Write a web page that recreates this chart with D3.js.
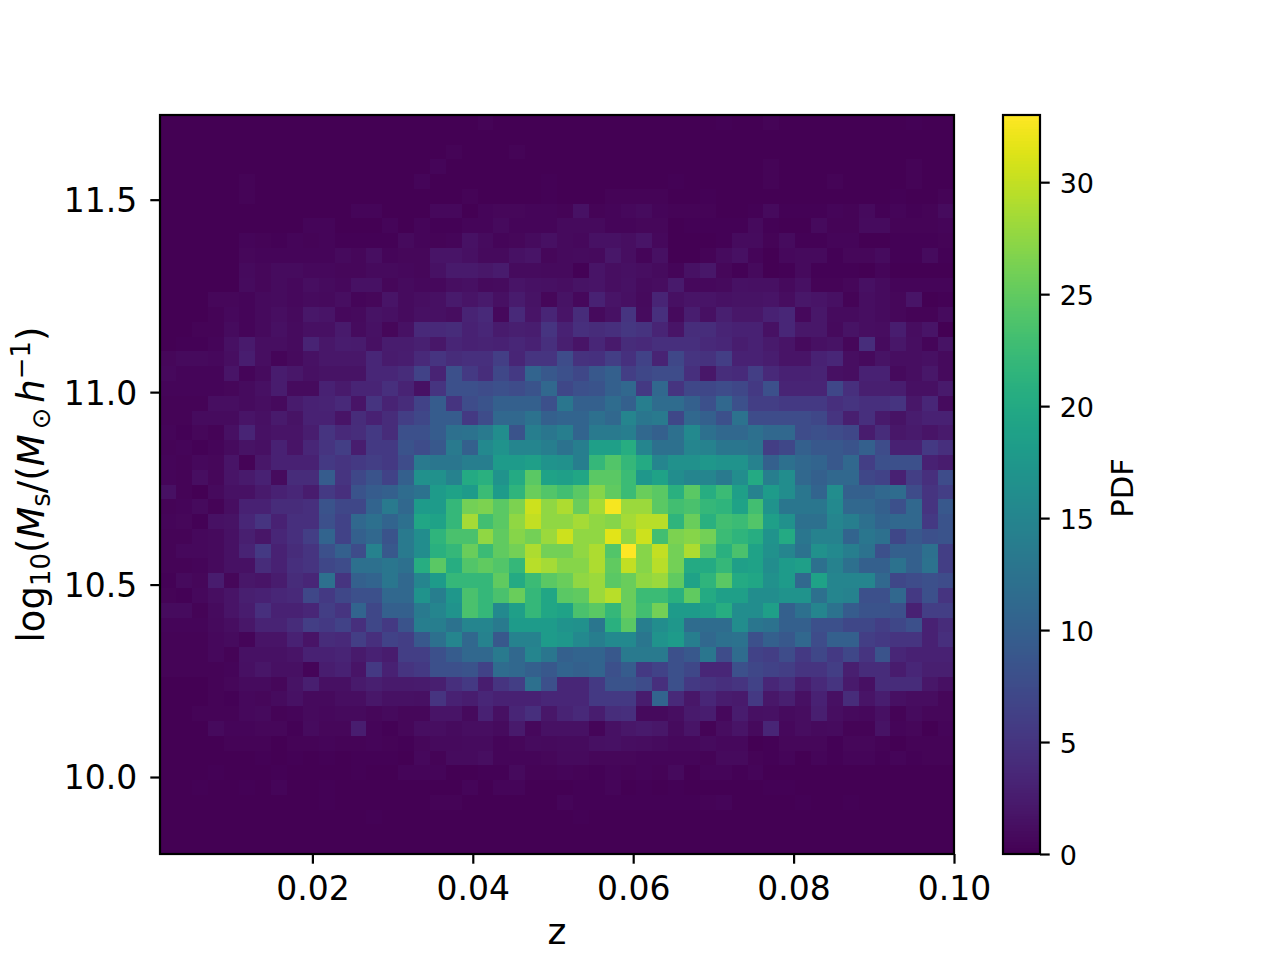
<!DOCTYPE html>
<html>
<head>
<meta charset="utf-8">
<script src="https://cdn.jsdelivr.net/npm/d3@7"></script>
<style>
  html, body { margin: 0; padding: 0; background: #fff; }
  text { font-family: "DejaVu Sans", sans-serif; fill: #000; }
</style>
</head>
<body>
<div id="app"></div>
<script>
const xTicks = [0.02, 0.04, 0.06, 0.08, 0.10];
const yTicks = [10.0, 10.5, 11.0, 11.5];
const cbarTicks = [0, 5, 10, 15, 20, 25, 30];
const pdfMax = 33;

// PDF per bin, top row of the image first
const pdf = [
[0,0,0,0,0,0,0,0,0,0, 0,0,0,0,0,0,0,0,0,0, .3,0,0,0,0,0,0,0,0,0, 0,0,0,0,0,.2,0,0,.3,0, 0,0,0,0,0,0,0,.2,0,0],
[0,0,0,0,0,0,0,0,0,0, 0,0,0,0,0,0,0,0,0,0, 0,0,0,0,0,0,0,0,0,0, 0,0,0,0,0,0,0,0,0,0, 0,0,0,0,0,0,0,0,0,0],
[0,0,0,0,0,0,0,0,0,0, 0,0,0,0,0,0,0,0,.3,0, 0,0,.3,0,0,.1,0,0,0,0, 0,0,0,0,0,0,0,0,0,0, 0,0,0,0,0,0,0,0,0,0],
[0,0,0,0,0,0,0,0,0,0, 0,0,0,0,0,0,0,.4,0,0, 0,0,.1,0,.1,.1,0,0,0,0, 0,0,.1,0,0,0,0,0,.3,0, 0,0,0,0,0,0,0,.3,0,0],
[0,0,0,0,0,.3,0,0,0,0, 0,0,0,0,0,0,.4,0,0,0, .1,0,0,0,.2,.1,0,0,.1,.1, .1,0,.2,0,0,0,0,0,.3,0, 0,0,.3,0,0,0,0,.3,0,0],
[0,0,0,0,0,.3,0,0,0,0, 0,0,0,0,0,0,0,0,0,.3, .1,0,0,0,.2,.1,0,.1,.3,.3, .3,.3,0,0,.2,0,0,0,.1,0, 0,0,.1,0,0,0,.2,0,0,.3],
[0,0,0,0,0,.1,0,0,0,0, 0,0,.5,.5,0,0,0,.7,.7,.1, .4,.6,.6,.5,.5,.3,1.5,.3,.5,.7, 1,.4,.3,.3,.3,.1,.1,.2,.8,.2, .2,.2,.4,.3,.8,.2,.4,.2,.3,1],
[0,0,0,0,0,.1,0,0,0,.4, .4,0,0,0,.4,0,.5,.2,.2,.4, .5,.8,.4,.4,.5,.8,.8,.8,.4,.4, .6,.6,.1,.2,.2,.2,.2,.8,.2,.1, .1,.8,.3,.3,1,1,.3,.3,.3,.4],
[0,0,0,0,0,.5,.3,.2,.4,.3, .4,.2,.2,.2,.2,.8,.4,.3,.4,1.5, 1,.5,.6,1,1.3,.9,.7,1.5,1.5,1.2, 1.8,.7,.1,.1,.1,.2,1,1,.3,1, .2,.2,.5,.5,.1,.1,.2,.2,.2,.3],
[0,0,0,0,0,.6,.5,.5,.4,.4, .4,.8,.6,1.2,.5,.6,.6,1.8,1.8,1.3, .8,.9,1.5,1.8,.6,.9,1,.8,2,1.2, .5,1.3,.1,0,.3,1,1.4,.5,.1,.7, .8,.8,.2,.6,.6,1,.2,.2,1,.2],
[0,0,0,0,0,.8,.6,1,1,.7, .7,.6,.6,.8,.8,.7,.6,1.5,2.3,2.2, 2,2.4,1,1,.9,.8,.2,1.7,1.2,1.3, 1.2,1,.5,1.5,2,.6,.2,.8,.1,.2, .8,.2,.2,.2,.1,.4,.1,.1,.1,.1],
[0,0,0,0,0,1,.6,1,.7,1.2, 1,.7,1.5,1.5,.6,1,.7,.7,1.2,1.4, .9,1,1.8,1.5,1.3,1.2,1.6,1.7,1.2,1.5, 1,1.1,2.2,.7,.7,.9,1.5,1.3,1.4,.8, 1.3,.3,.3,.6,1.3,1,.4,.4,.4,.4],
[0,0,0,.6,.6,.4,.8,1,.7,1, .9,1.2,.5,.6,1.8,1,1.2,1.4,2.3,1.8, 2.2,1.4,2.4,1.6,.6,1.6,.7,3,1.8,1.3, .8,3.3,1.4,1.7,1.7,1.5,1.6,1.6,1.7,1.1, 2,1.7,1.3,.3,1.2,1,.6,1.7,.1,.2],
[0,0,.1,.3,.7,.5,.8,1.2,.8,2, 1.8,.7,.9,1.6,1.3,1,1.3,1.3,1.1,3.2, 3.8,.7,3.8,1.8,3.4,1.8,4,.8,1.5,5, 1,4.5,.8,2.6,1.4,2.8,2,2,3,3.5, .7,2,1,1,1.2,1,.6,.3,.3,1],
[0,.1,.3,.3,1,.5,.8,1.3,1,1.3, 1.3,2.2,1,1.5,.6,1.5,3.8,3.8,4,3, 3.6,2.4,2.8,2.6,5,3,4.5,4,4.5,5.2, 4.8,3.3,1.7,4.2,4.2,3.3,3,3,1.5,3.6, 2,2,.9,1.6,1.2,1.1,2.7,1.1,1.8,.1],
[0,.2,.2,.5,1.4,2.3,1.2,1.2,1,3.2, 2,2.5,2.4,1.3,2.5,2.5,2.9,2,3.4,3, 3.2,3,3.5,3,4.5,2.8,1.8,3.5,2.2,4, 3.8,4.5,4.5,4.5,3.8,3.6,2.7,3,2.2,1.8, .9,1.3,1.6,.6,4.2,1,2,1.2,.4,1.6],
[.6,.8,.8,.7,1.2,2.6,1.2,.4,.9,1.5, 2,2,2,3.6,2.4,2.6,3.8,5,4,4.5, 4.5,6,3.4,5,5,7.5,4.7,4.6,6,4.6, 6.5,3.2,7,5,4.7,6,3,3,2.6,1.8, 1.7,3,3.5,1.2,.8,1.6,1.2,1.2,1.4,.8],
[.7,.4,.5,.5,1.8,.5,1,2.5,2,1.4, 1.6,1.6,1.6,3.6,3.6,4,6.5,3.2,8,5.5, 4.2,7,5.5,10.5,9,8,7,9,10,6, 7,7.5,7.5,4.5,2,4.2,3.9,6,3.8,3, 3,3.2,1.3,1.2,3,3,.9,1.2,2,.9],
[.5,.5,.5,.5,.6,1,1.4,2.5,1,1, 3,2.3,3.3,3.3,4.5,3.2,1.5,5,8,8, 7.5,8,7.5,8.5,11,7,8,8.5,10,11, 5.5,11,5,7,7,7.5,7,5.5,8,3.3, 3.3,3.3,7,4.5,2.8,2.8,2.6,1.4,1.4,2.2],
[.3,.3,.3,1.2,1.2,1,1.2,.8,2.4,3, 3.2,3.8,1.8,5,3.2,4,6.5,9.5,5,7.5, 8.5,10,10,10,8,13,10,10,11.5,10, 14,11.5,11.5,10,8,11,8,6,6,5.5, 5.5,5.5,4.5,5,4.5,4.5,5,2,3.5,1],
[.3,.3,1,1,1,1.8,1.4,2.2,1.6,3, 3,1.8,4,3,4,6,7,9.5,9.5,5.5, 7.5,11,11,12.5,10,10.5,10.5,12,11,15, 13,13.5,7,11,10,8,12.5,7.5,7.5,7.5, 7.5,7,5,2.8,4.5,2.2,1.6,2.5,3,3],
[.4,.2,.6,.3,1.3,3.3,1.5,1.7,1.7,2.6, 5,3.8,4.2,5.5,4,8,8,9.5,12,12.5, 13.5,16,8.5,14,13,14,10.5,13.5,13.5,14, 11,10,12,15.5,12,11,11,12,11,11, 7.5,8,7.5,7,2.5,4,2,2.2,1.8,2.2],
[.3,.4,.2,.5,1,1.6,1.4,3,1.7,3.5, 5,6,2.6,5.5,5.5,8.5,7.5,9,13.5,10, 15.5,17,15,15,14,12.5,14,18.5,18.5,20.5, 15,12,12,15,14.5,13,13,12.5,6,7, 10,9,9,8.5,10,7.5,3,3,5.5,4.5],
[.5,.3,.7,.6,1.8,.3,2,3,3,3, 5.5,5,5.5,6,5.5,7.5,13.5,13,13,14, 14,18,18,18.5,17,16.5,14,22,24,22, 20,15,16.5,16.5,17.5,17,17,14.5,10,12, 11,10.5,9,11,6,8,8,8,3,2.5],
[.5,.3,1.2,.6,1.8,2.2,3,1,4,4, 9.5,5,7,8.5,6.5,10,16.5,16.5,14.5,20, 21,17,20,24.5,19,18.5,19.5,24.5,24.5,22.5, 17.5,19,16,15,15,13.5,16,20,14,16, 11,10,11,11,7,6.5,3,6,4.5,7.5],
[1.4,.3,.1,.8,1.5,1.5,2.2,3,3.5,2.5, 5.5,4.5,8.5,9.5,10,11.5,12.5,18,19,18, 22.5,18,21.5,25.5,24,23,24.5,27,25,22.5, 25.5,24.5,21,24.5,20.5,22.5,18.5,14.5,18,16, 13,10.5,16,10,10,11,11.5,7.5,5,6],
[.3,.4,.8,.3,1.2,3,3,4,4,4.5, 8.5,7,7,10.5,13.5,11,18,18,22,26, 26.5,24.5,26.5,30.5,27.5,29,25.5,28.5,32.5,28, 28,24.5,23,23.5,22,21.5,19,23,17,13, 13,13,15.5,11,11,10,8,11,5,9],
[.4,.6,.2,1.5,1.6,3.5,5,3,4.5,4.5, 8,6.5,11,12,10.5,12,19.5,19,22,28.5, 23,24.5,27.5,30,27.5,27.5,28.5,27.5,27,28.5, 29.5,29.5,21.5,25.5,21,23,22.5,24,18.5,16.5, 12,12,15,14,12,10.5,11,11,5.5,8.5],
[.3,.3,.7,.9,1.5,2.8,1.9,3.5,4.5,6, 10.5,6.5,10,11,8.5,13.5,16,21.5,23.5,23.5, 27.5,25,27,26,28,30.5,27.5,27.5,31.5,27.5, 30.5,23,26.5,27,26,22.5,21.5,20.5,17,20, 13,14.5,14.5,10.5,13,12,7,9,8,8.5],
[.3,.7,.7,.9,1.5,3.2,5.5,3,4,5, 8,10,7.5,14.5,9,13.5,16,21,22,25.5, 22.5,25,26,29,26,26,27.5,29,24,33, 27,30,26,29,24,21,23.5,19,16.5,15, 12.5,16.5,15.5,14,12.5,8,10,10,12,6],
[.3,.3,.4,.8,1.5,1.5,4,3,4.5,5, 7,7.5,12,12,13,12,20.5,24.5,20.5,24, 25,24,22,29.5,28.5,27,27,29,25,30, 27,29.5,26,20,20,22,18.5,19,16,18, 18.5,12,14.5,12,10,10,12.5,10,12.5,6],
[.2,.8,.6,2.5,.6,2,1.8,2.5,4,3.5, 12,5,10,10.5,13,11,15,18,22,22, 22,25,20,22.5,24.5,25.5,27.5,28,24.5,25.5, 27.5,28,25,19,21.5,24.5,20,19.5,16.5,18, 11,19,15,15,15,11,7,7.5,8,7.5],
[.3,.2,.7,1.2,1.7,2.8,3,3.5,3.8,7, 5.5,7,8,8,11,11,17,14,17.5,23.5, 22,23.5,25.5,22,19.5,24.5,25,28,29.5,25.5, 22.5,22.5,21,25,20,18.5,18.5,16,16,17, 17,12,15,14.5,8,8,11,5.5,8,5],
[1,1,.3,1,1.8,2.5,4.5,3,3,3.5, 6,5,10.5,7,10,10,13.5,15,17,23.5, 22,15.5,18.5,22,19.5,19,23.5,24.5,22,25.5, 23,26,18,18,18.5,20.5,16,16,18.5,10, 12,15,12.5,9.5,8.5,8.5,8,3,6,6],
[.4,.4,.4,.8,1.2,2,3.2,3.2,4,6, 5.5,6.5,4.5,7,5.5,8.5,14,14,12.5,15, 15,13.5,18,18,18,17,16.5,13,21,24.5, 14,16,17.5,11.5,11.5,11.5,16,13,12.5,10, 10,8,8,7,7,6,7,8,3,4],
[.3,.3,.3,.7,1,.4,1.7,1.7,3,1.8, 4,3.8,6,4.5,6.5,6,9,12,15,11, 14.5,9,14.5,14.5,18,17.5,15.5,14,15.5,15.5, 13,17,18,14,11,12,12.5,8,10,9, 11,7.5,10,10,6,5.5,5,5,3,4.5],
[.3,.3,.3,.7,.3,1.5,1.5,1.5,1.7,3, 3,3.3,2.2,3,2.5,6,6,8,9.5,11, 11,13.5,11,15,13,10,10.5,10.5,9,13.5, 13.5,13.5,8,9,13,7.5,11.5,6.5,6,7.5, 5.5,7,5.5,7,5,8.5,3.5,3,3,3],
[.3,.3,.3,.3,.4,1.4,1.9,1.4,1.3,.5, 2.7,3,1.8,5.5,3,5,5.5,8,8,8.5, 6.5,11.5,11,10,9,10.5,10,10.5,8,9.5, 5.5,6.5,8,7,3.5,3.5,8,7,6.5,6, 5,5,6,2.8,4,4,2.5,3.6,2.8,2.8],
[0,.1,.1,.3,.6,1,1,.6,1.6,2.8, 1.4,1.3,2.2,2.8,2.2,2.2,2.4,2.8,4.5,5.5, 2.6,5,6,12,8,3.5,3.5,5.5,8.5,8.5, 7.5,4.5,8,5.5,5,4.5,5,6.5,3.5,4.5, 2.6,3.8,5,2.2,1.3,4,4,4,2,1.4],
[0,.1,.1,.3,.2,.7,.6,1,1.5,.8, .8,1.2,1.2,2,1.5,1.5,1.3,5,3,2.6, 3.6,3,3,3,3.5,3.5,3.5,5.5,5.5,5.5, 2.5,10.5,3.8,2,3.5,2.5,2.2,5.5,2,2.8, 1.4,3,1.4,4,1.8,2.6,1.3,1.1,1.1,.6],
[0,.1,.3,.3,.3,.7,.8,.3,.4,.9, .7,.9,.9,.6,.9,.6,.6,1.8,1.8,.8, 3,1.3,3.4,4.5,2,3.2,3.8,2.6,4.2,4.4, .9,.9,1.2,2.2,2.6,.7,2.5,1.4,1.5,1, 1.1,2.8,1.2,.9,.7,1.4,.3,1,.6,.6],
[0,0,.1,.8,.5,.4,.6,.6,.2,1, .6,.6,2.6,.4,.2,.6,1.2,1.2,1,1.2, 1.2,1,2.2,.7,1.5,1.5,1.5,.5,1.5,2, 2.3,2,1,1.8,.3,1.1,1.8,.9,3.4,.7, 1.1,.9,1,.3,.3,1.6,.5,.6,.1,.5],
[0,0,.1,.1,.3,.3,.3,.1,.3,.3, .5,.3,.3,.4,.3,.2,.6,.8,.8,1, 1,.5,.6,1,.9,1,1,1.3,1.5,1.2, 1.1,1,.7,.7,1,.7,.7,.1,.2,.6, .6,.6,.2,.6,.6,.3,0,.3,.3,.3],
[0,0,0,0,.1,.1,.2,.1,.2,.1, .2,.1,.2,.2,.2,.1,.7,.3,1,1, 1.2,.5,.5,.4,.6,.9,.9,.6,.6,.6, .4,.5,.4,.5,.3,.8,.8,.3,.2,.5, .1,.5,.2,.4,.4,.2,.4,.2,.3,.3],
[0,0,0,.2,0,0,0,.2,0,0, .1,0,.2,0,0,.4,.4,.4,.1,.1, .2,.2,.8,.3,.3,.4,.3,.2,.4,.3, .4,.3,.9,.1,.4,.4,.2,.4,.1,.1, .1,.1,.1,.1,.1,.1,.1,.1,.1,.1],
[0,0,.2,0,0,.2,0,.4,0,0, .2,0,0,0,0,0,.1,0,0,.4, 0,.5,.5,.1,.05,.05,.2,.2,.4,.1, .2,.1,.2,.1,.1,0,.1,.1,.15,.15, .05,.05,.05,.05,.05,.05,.05,.05,.05,.05],
[0,0,0,0,0,0,0,0,0,0, .2,0,0,0,0,0,0,.3,.3,0, 0,.1,0,0,.1,.4,.2,.2,.15,.15, .15,.15,.15,.15,.3,.4,.1,0,0,0, .2,0,0,.15,0,0,0,0,0,0],
[0,0,0,0,0,0,0,0,0,.1, 0,0,0,.15,0,0,0,0,0,0, 0,0,0,0,0,0,.2,.1,0,0, 0,0,0,0,0,0,0,.1,0,0, 0,0,0,0,0,.1,0,0,0,0],
[0,0,0,0,0,0,0,0,0,0, 0,0,0,0,0,0,0,0,0,0, 0,0,0,0,0,.1,0,0,0,0, 0,0,0,0,.1,0,0,0,0,0, 0,0,0,0,0,0,0,0,0,0],
[0,0,0,0,0,0,0,0,0,0, 0,0,0,0,0,0,.1,0,0,0, 0,.1,0,0,.05,0,0,0,0,0, 0,0,0,0,0,0,0,0,0,0, 0,0,0,0,0,0,0,0,0,0]
];

const width = 1280;
const height = 960;
const plot = { left: 160, right: 954, top: 115, bottom: 854 };
const cbar = { left: 1003, right: 1040 };
const tickLen = 9.7;
const lineW = 2.2;
const labelSize = 37;

const svg = d3.select('#app').append('svg')
  .attr('width', width)
  .attr('height', height)
  .style('display', 'block');

const x = d3.scaleLinear().domain([0.001, 0.1]).range([plot.left, plot.right]);
const y = d3.scaleLinear().domain([9.8, 11.72]).range([plot.bottom, plot.top]);
const col = d3.scaleBand().domain(d3.range(pdf[0].length)).range([plot.left, plot.right]);
const row = d3.scaleBand().domain(d3.range(pdf.length)).range([plot.top, plot.bottom]);
const color = d3.scaleSequential(d3.interpolateViridis).domain([0, pdfMax]);

// histogram cells
svg.append('g')
  .selectAll('g')
  .data(pdf)
  .enter().append('g')
  .attr('transform', (d, i) => `translate(0,${row(i)})`)
  .selectAll('rect')
  .data(d => d)
  .enter().append('rect')
  .attr('x', (d, i) => col(i))
  .attr('width', col.bandwidth() + 0.5)
  .attr('height', row.bandwidth() + 0.5)
  .attr('fill', d => color(d))
  .attr('shape-rendering', 'crispEdges');

function styleAxis(g, size) {
  g.selectAll('.tick line').attr('stroke', '#000').attr('stroke-width', lineW);
  g.selectAll('.tick text').attr('font-size', size).attr('font-family', '"DejaVu Sans"');
  g.select('.domain').remove();
}

svg.append('g')
  .attr('transform', `translate(0,${plot.bottom})`)
  .call(d3.axisBottom(x).tickValues(xTicks).tickFormat(d3.format('.2f')).tickSize(tickLen).tickPadding(13))
  .call(styleAxis, 33);

svg.append('g')
  .attr('transform', `translate(${plot.left},0)`)
  .call(d3.axisLeft(y).tickValues(yTicks).tickFormat(d3.format('.1f')).tickSize(tickLen).tickPadding(13))
  .call(styleAxis, 33)
  .call(g => g.selectAll('.tick text').attr('dy', '.36em'));

svg.append('rect')
  .attr('x', plot.left).attr('y', plot.top)
  .attr('width', plot.right - plot.left).attr('height', plot.bottom - plot.top)
  .attr('fill', 'none').attr('stroke', '#000').attr('stroke-width', lineW);

// colorbar
const cbarY = d3.scaleLinear().domain([0, pdfMax]).range([plot.bottom, plot.top]);
const cbarBand = d3.scaleBand().domain(d3.range(256)).range([plot.bottom, plot.top]);
svg.append('g')
  .selectAll('rect')
  .data(d3.range(256))
  .enter().append('rect')
  .attr('x', cbar.left)
  .attr('y', d => cbarBand(d))
  .attr('width', cbar.right - cbar.left)
  .attr('height', cbarBand.bandwidth())
  .attr('fill', d => color(d / 255 * pdfMax))
  .attr('shape-rendering', 'crispEdges');

svg.append('g')
  .attr('transform', `translate(${cbar.right},0)`)
  .call(d3.axisRight(cbarY).tickValues(cbarTicks).tickSize(tickLen).tickPadding(10))
  .call(styleAxis, 27)
  .call(g => g.selectAll('.tick text').attr('dy', '.38em'));

svg.append('rect')
  .attr('x', cbar.left).attr('y', plot.top)
  .attr('width', cbar.right - cbar.left).attr('height', plot.bottom - plot.top)
  .attr('fill', 'none').attr('stroke', '#000').attr('stroke-width', lineW);

// axis labels
svg.append('text')
  .attr('x', (plot.left + plot.right) / 2)
  .attr('y', 944)
  .attr('text-anchor', 'middle')
  .attr('font-size', 36)
  .text('z');

svg.append('text')
  .attr('transform', `translate(1133,488) rotate(-90)`)
  .attr('text-anchor', 'middle')
  .attr('font-size', 30.6)
  .text('PDF');

const ylab = svg.append('text')
  .attr('transform', `translate(44,${(plot.top + plot.bottom) / 2}) rotate(-90)`)
  .attr('text-anchor', 'middle')
  .attr('font-size', labelSize);
// text, baseline shift, size factor, style, gap before
const parts = [
  ['log', 0, 1, 'normal', 0],
  ['10', 6, 0.7, 'normal', 0],
  ['(', 0, 1, 'normal', 0],
  ['M', 0, 1, 'italic', 0],
  ['s', 6, 0.7, 'normal', 0],
  ['/(', 0, 1, 'normal', 0],
  ['M', 0, 1, 'italic', 0],
  ['\u2299', 6, 0.7, 'normal', 5],
  ['h', 0, 1, 'italic', 5],
  ['\u22121', -14, 0.7, 'normal', 0],
  [')', 0, 1, 'normal', 0]
];
let shift = 0;
parts.forEach(p => {
  ylab.append('tspan')
    .attr('dx', p[4])
    .attr('dy', p[1] - shift)
    .attr('font-size', labelSize * p[2])
    .attr('font-style', p[3])
    .text(p[0]);
  shift = p[1];
});
</script>
</body>
</html>
